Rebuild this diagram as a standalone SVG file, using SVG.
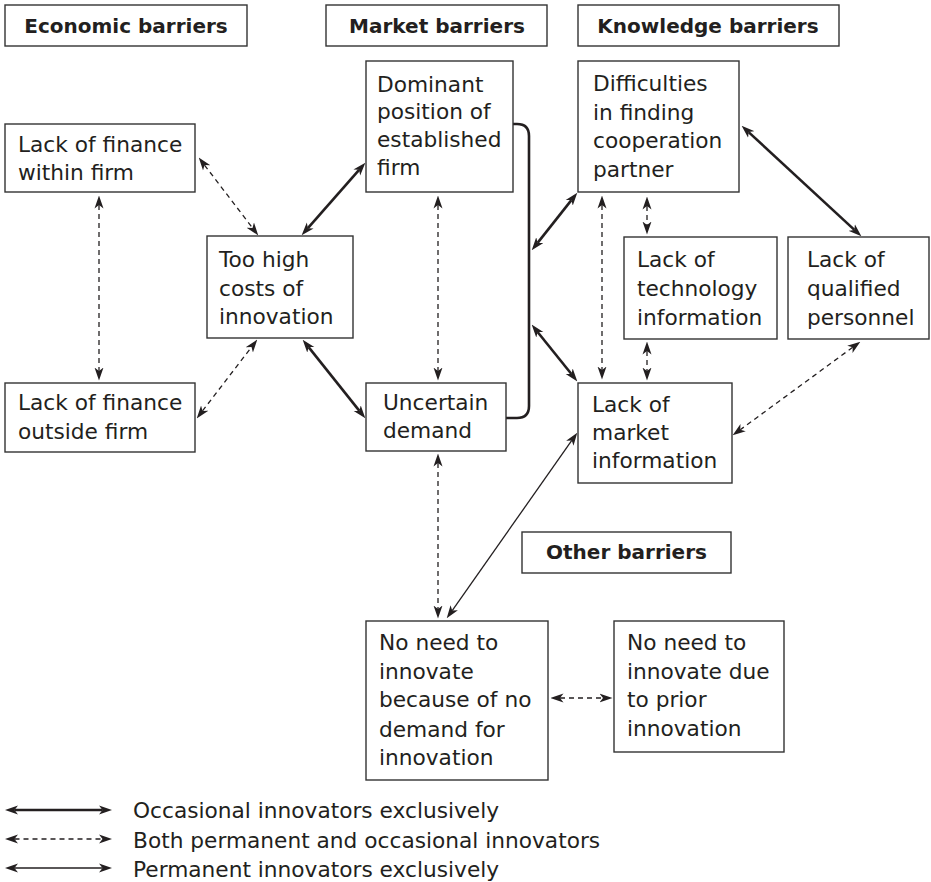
<svg xmlns="http://www.w3.org/2000/svg" width="931" height="882" viewBox="0 0 931 882">
  <defs>
    <marker id="ah" viewBox="0 0 13 10" refX="3.5" refY="5" markerWidth="13" markerHeight="10" markerUnits="userSpaceOnUse" orient="auto-start-reverse">
      <path d="M0,0.5 L13,5 L0,9.5 L3.5,5 Z" fill="#231f20"/>
    </marker>
    <style>
      .box { fill: #fff; stroke: #333; stroke-width: 1.4; }
      .head { font-family: "DejaVu Sans", sans-serif; font-weight: bold; font-size: 20px; fill: #231f20; text-anchor: middle; }
      .lbl { font-family: "DejaVu Sans", sans-serif; font-size: 21.7px; fill: #231f20; }
      .thick { stroke: #231f20; stroke-width: 2.6; fill: none; marker-start: url(#ah); marker-end: url(#ah); }
      .thin { stroke: #231f20; stroke-width: 1.3; fill: none; marker-start: url(#ah); marker-end: url(#ah); }
      .dash { stroke: #231f20; stroke-width: 1.3; fill: none; stroke-dasharray: 5 4; marker-start: url(#ah); marker-end: url(#ah); }
    </style>
  </defs>
  <rect width="931" height="882" fill="#fff"/>

  <!-- category headers -->
  <g id="hdr-economic">
    <rect class="box" x="5" y="5" width="242" height="41"/>
    <text class="head" x="126" y="33">Economic barriers</text>
  </g>
  <g id="hdr-market">
    <rect class="box" x="326" y="5" width="221" height="41"/>
    <text class="head" x="437" y="33">Market barriers</text>
  </g>
  <g id="hdr-knowledge">
    <rect class="box" x="578" y="5" width="261" height="41"/>
    <text class="head" x="708" y="33">Knowledge barriers</text>
  </g>
  <g id="hdr-other">
    <rect class="box" x="522" y="532" width="209" height="41"/>
    <text class="head" x="626.5" y="559">Other barriers</text>
  </g>

  <!-- connectors -->
  <g id="connectors">
    <!-- bracket grouping the market barriers -->
    <path d="M513,124 H517 Q529,124 529,136 V406 Q529,418 517,418 H506" stroke="#231f20" stroke-width="2.6" fill="none"/>
    <line class="dash" x1="204.5" y1="165.1" x2="252.5" y2="227.9"/>
    <line class="dash" x1="99" y1="205" x2="99" y2="371"/>
    <line class="dash" x1="202.5" y1="410.9" x2="251.5" y2="347.1"/>
    <line class="thick" x1="307.9" y1="228.2" x2="359.1" y2="169.8"/>
    <line class="thick" x1="308.6" y1="347.1" x2="359.4" y2="410.9"/>
    <line class="dash" x1="438" y1="205" x2="438" y2="371"/>
    <line class="thick" x1="537.6" y1="242.9" x2="571.4" y2="200.1"/>
    <line class="thick" x1="537.6" y1="332" x2="571.4" y2="374"/>
    <line class="dash" x1="602" y1="205" x2="602" y2="370"/>
    <line class="dash" x1="647" y1="206" x2="647" y2="225"/>
    <line class="dash" x1="647" y1="351" x2="647" y2="371"/>
    <line class="thick" x1="748.6" y1="132.1" x2="854.4" y2="229.9"/>
    <line class="dash" x1="852.7" y1="347.3" x2="740.3" y2="429.7"/>
    <line class="thin" x1="571.8" y1="440.4" x2="452.2" y2="610.6"/>
    <line class="dash" x1="438" y1="463" x2="438" y2="609"/>
    <line class="dash" x1="560" y1="698" x2="603" y2="698"/>
  </g>

  <!-- barrier nodes -->
  <g id="n-finance-within">
    <rect class="box" x="5" y="124" width="190" height="68"/>
    <text class="lbl" x="18"><tspan x="18" y="152">Lack of finance</tspan><tspan x="18" y="180">within firm</tspan></text>
  </g>
  <g id="n-finance-outside">
    <rect class="box" x="5" y="383" width="190" height="69"/>
    <text class="lbl"><tspan x="18" y="410">Lack of finance</tspan><tspan x="18" y="439">outside firm</tspan></text>
  </g>
  <g id="n-costs">
    <rect class="box" x="207" y="236" width="146" height="102"/>
    <text class="lbl"><tspan x="219" y="267">Too high</tspan><tspan x="219" y="296">costs of</tspan><tspan x="219" y="324">innovation</tspan></text>
  </g>
  <g id="n-dominant">
    <rect class="box" x="366" y="61" width="147" height="131"/>
    <text class="lbl"><tspan x="377" y="91.5">Dominant</tspan><tspan x="377" y="119">position of</tspan><tspan x="377" y="147">established</tspan><tspan x="377" y="175">firm</tspan></text>
  </g>
  <g id="n-demand">
    <rect class="box" x="366" y="383" width="140" height="68"/>
    <text class="lbl"><tspan x="383" y="410">Uncertain</tspan><tspan x="383" y="438">demand</tspan></text>
  </g>
  <g id="n-cooperation">
    <rect class="box" x="578" y="61" width="161" height="131"/>
    <text class="lbl"><tspan x="593" y="91">Difficulties</tspan><tspan x="593" y="119.5">in finding</tspan><tspan x="593" y="148">cooperation</tspan><tspan x="593" y="176.5">partner</tspan></text>
  </g>
  <g id="n-technology">
    <rect class="box" x="624" y="237" width="153" height="102"/>
    <text class="lbl"><tspan x="637" y="267">Lack of</tspan><tspan x="637" y="296">technology</tspan><tspan x="637" y="325">information</tspan></text>
  </g>
  <g id="n-personnel">
    <rect class="box" x="788" y="237" width="141" height="102"/>
    <text class="lbl"><tspan x="807" y="267">Lack of</tspan><tspan x="807" y="296">qualified</tspan><tspan x="807" y="325">personnel</tspan></text>
  </g>
  <g id="n-market-info">
    <rect class="box" x="578" y="383" width="154" height="100"/>
    <text class="lbl"><tspan x="592" y="412">Lack of</tspan><tspan x="592" y="440">market</tspan><tspan x="592" y="468">information</tspan></text>
  </g>
  <g id="n-no-demand">
    <rect class="box" x="366" y="621" width="182" height="159"/>
    <text class="lbl"><tspan x="379" y="650">No need to</tspan><tspan x="379" y="679">innovate</tspan><tspan x="379" y="707">because of no</tspan><tspan x="379" y="737">demand for</tspan><tspan x="379" y="765">innovation</tspan></text>
  </g>
  <g id="n-prior">
    <rect class="box" x="614" y="621" width="170" height="131"/>
    <text class="lbl"><tspan x="627" y="650">No need to</tspan><tspan x="627" y="679">innovate due</tspan><tspan x="627" y="707">to prior</tspan><tspan x="627" y="736">innovation</tspan></text>
  </g>

  <!-- legend -->
  <g id="legend">
    <line class="thick" x1="14.5" y1="810" x2="102.5" y2="810"/>
    <line class="dash" x1="14.5" y1="839" x2="102.5" y2="839"/>
    <line class="thin" x1="14.5" y1="868" x2="102.5" y2="868"/>
    <text class="lbl" x="133" y="818">Occasional innovators exclusively</text>
    <text class="lbl" x="133" y="848">Both permanent and occasional innovators</text>
    <text class="lbl" x="133" y="877">Permanent innovators exclusively</text>
  </g>
</svg>
